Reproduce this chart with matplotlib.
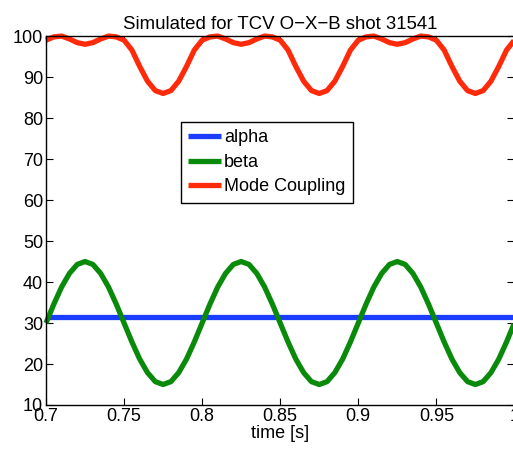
import numpy as np
import matplotlib.pyplot as plt

plt.rcParams['font.family'] = ['Liberation Sans', 'DejaVu Sans']

# time axis [s], 0.005 s steps
time = np.round(np.arange(0.7, 1.0001, 0.005), 3)

alpha = [31.5] * 61

beta = [30.0, 34.6, 38.8, 42.1, 44.3, 45.0, 44.3, 42.1, 38.8, 34.6,
        30.0, 25.4, 21.2, 17.9, 15.7, 15.0, 15.7, 17.9, 21.2, 25.4,
        30.0, 34.6, 38.8, 42.1, 44.3, 45.0, 44.3, 42.1, 38.8, 34.6,
        30.0, 25.4, 21.2, 17.9, 15.7, 15.0, 15.7, 17.9, 21.2, 25.4,
        30.0, 34.6, 38.8, 42.1, 44.3, 45.0, 44.3, 42.1, 38.8, 34.6,
        30.0, 25.4, 21.2, 17.9, 15.7, 15.0, 15.7, 17.9, 21.2, 25.4,
        30.0]

mode_coupling = [99.0, 99.8, 100.0, 99.3, 98.4, 98.0, 98.4, 99.3, 100.0, 99.8,
                 99.0, 96.6, 92.6, 89.0, 86.7, 86.0, 86.7, 89.0, 92.6, 96.6,
                 99.0, 99.8, 100.0, 99.3, 98.4, 98.0, 98.4, 99.3, 100.0, 99.8,
                 99.0, 96.6, 92.6, 89.0, 86.7, 86.0, 86.7, 89.0, 92.6, 96.6,
                 99.0, 99.8, 100.0, 99.3, 98.4, 98.0, 98.4, 99.3, 100.0, 99.8,
                 99.0, 96.6, 92.6, 89.0, 86.7, 86.0, 86.7, 89.0, 92.6, 96.6,
                 99.0]

xticks = [0.7, 0.75, 0.8, 0.85, 0.9, 0.95, 1.0]
xticklabels = ['0.7', '0.75', '0.8', '0.85', '0.9', '0.95', '1']
yticks = list(range(10, 101, 10))

fig = plt.figure(figsize=(5.13, 4.51), dpi=100)
ax = fig.add_axes([0.0897, 0.102, 0.913, 0.818])

lw = 3.8
style = dict(linewidth=lw, clip_on=False, solid_joinstyle='round', solid_capstyle='butt')
ax.plot(time, alpha, color='#1a3dff', label='alpha', **style)
ax.plot(time, beta, color='#0a8a0a', label='beta', **style)
ax.plot(time, mode_coupling, color='#ff2a0a', label='Mode Coupling', **style)

ax.set_xlim(0.7, 1.0)
ax.set_ylim(10, 100)
ax.set_xticks(xticks)
ax.set_xticklabels(xticklabels)
ax.set_yticks(yticks)
ax.tick_params(axis='both', direction='in', length=5, width=0.8, labelsize=13,
               top=True, right=True, pad=2)
for s in ax.spines.values():
    s.set_linewidth(1.0)

ax.set_title('Simulated for TCV O\u2212X\u2212B shot 31541', fontsize=13.4, pad=5)
ax.set_xlabel('time [s]', fontsize=13, labelpad=0)

leg = ax.legend(loc='upper left', bbox_to_anchor=(0.288, 0.767), fontsize=13,
                fancybox=False, edgecolor='black', framealpha=1,
                handlelength=1.8, handletextpad=0.2, borderpad=0.4,
                labelspacing=0.42, borderaxespad=0)
leg.get_frame().set_linewidth(1.0)

plt.savefig('out.png', dpi=100)
